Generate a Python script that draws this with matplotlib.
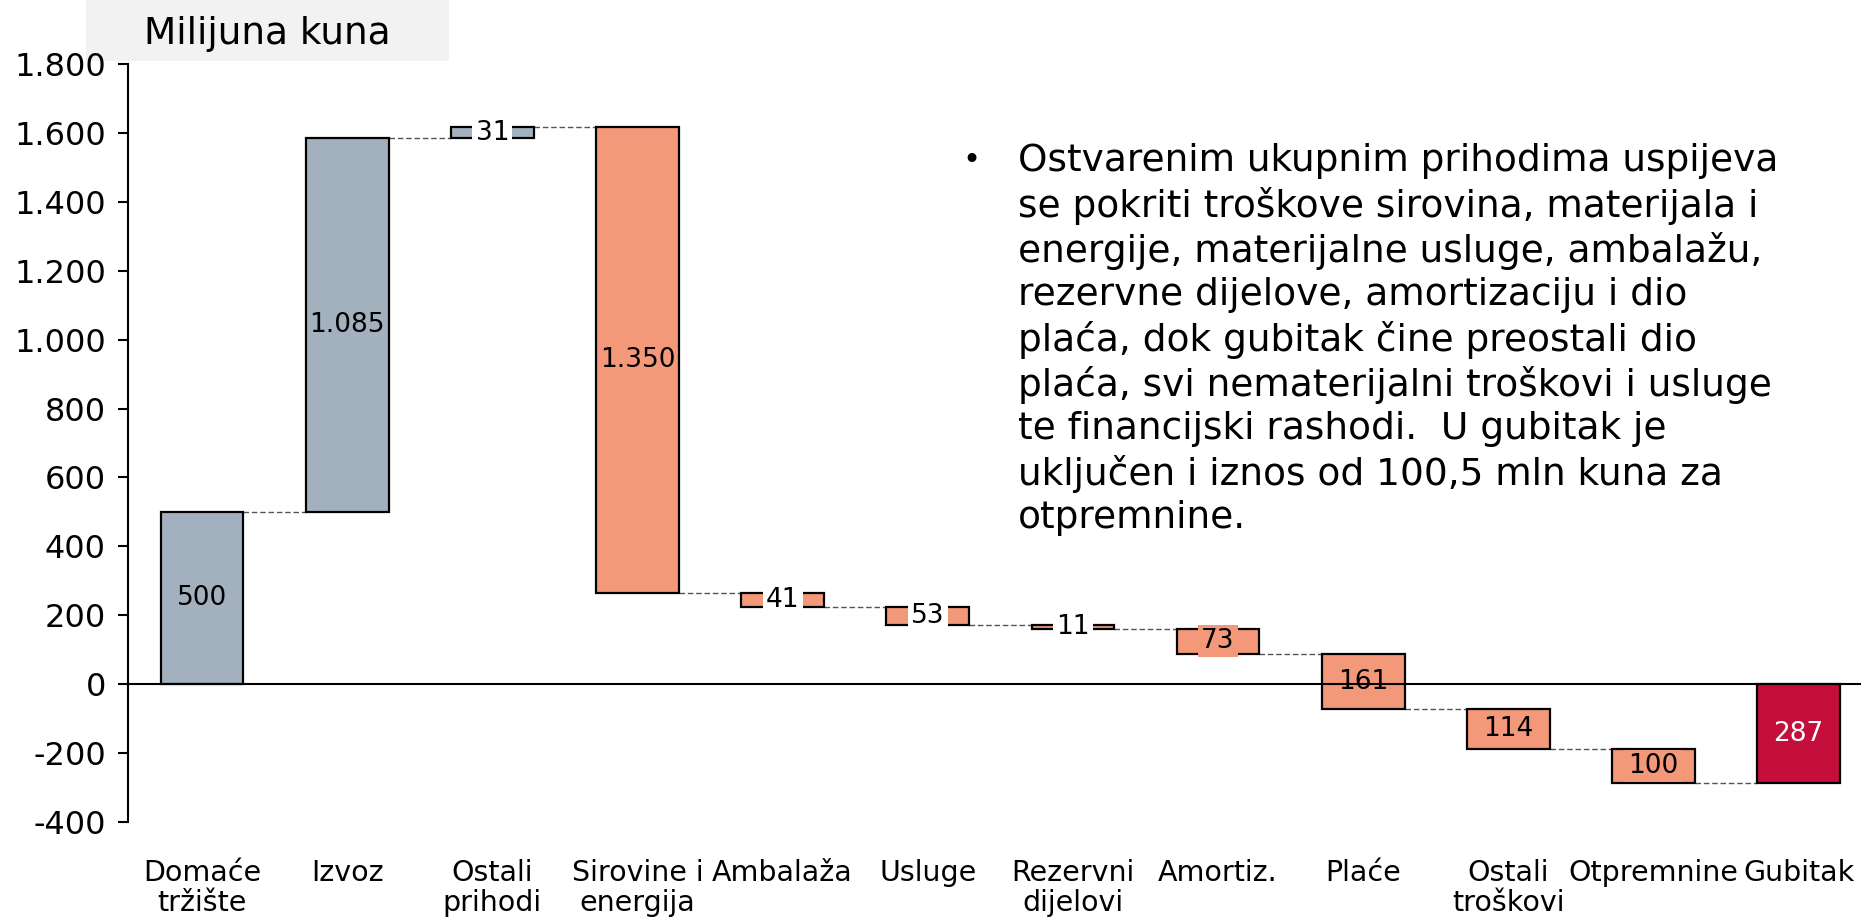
import numpy as np
import matplotlib
matplotlib.use("Agg")
import matplotlib.pyplot as plt
from matplotlib.ticker import FuncFormatter, MultipleLocator

# podaci (milijuna kuna)
categories = ["Domaće\ntržište", "Izvoz", "Ostali\nprihodi", "Sirovine i\nenergija",
              "Ambalaža", "Usluge", "Rezervni\ndijelovi", "Amortiz.", "Plaće",
              "Ostali\ntroškovi", "Otpremnine", "Gubitak"]
changes = [500, 1085, 31, -1350, -41, -53, -11, -73, -161, -114, -100]
note_lines = [
    "Ostvarenim ukupnim prihodima uspijeva",
    "se pokriti troškove sirovina, materijala i",
    "energije, materijalne usluge, ambalažu,",
    "rezervne dijelove, amortizaciju i dio",
    "plaća, dok gubitak čine preostali dio",
    "plaća, svi nematerijalni troškovi i usluge",
    "te financijski rashodi.  U gubitak je",
    "uključen i iznos od 100,5 mln kuna za",
    "otpremnine.",
]

GRAY = "#a3b1bf"
SALMON = "#f4987a"
RED = "#c40f3d"


def fmt(v):
    return f"{int(round(v)):,}".replace(",", ".")


cum = np.cumsum(changes)
starts = np.concatenate([[0], cum[:-1]])
final = cum[-1]

fig = plt.figure(figsize=(18.61, 9.21), dpi=100)

# naslov osi (siva podloga iza osi)
fig.patches.append(plt.Rectangle((86 / 1861, 1 - 61 / 921), 363 / 1861, 61 / 921,
                                 transform=fig.transFigure, fc="#f2f2f2", ec="none",
                                 zorder=0))
fig.text(267 / 1861, 1 - 34 / 921, "Milijuna kuna", ha="center", va="center",
         fontsize=27)

ax = fig.add_axes([0.0688, 0.1075, 0.9312, 0.8230])
ax.set_zorder(2)
ax.patch.set_alpha(0)

x = np.arange(len(categories))
w = 0.57
bottoms = list(np.minimum(starts, cum)) + [min(0, final)]
heights = list(np.abs(changes)) + [abs(final)]
colors = [GRAY if c > 0 else SALMON for c in changes] + [RED]
ax.bar(x, heights, bottom=bottoms, width=w, color=colors, edgecolor="black",
       linewidth=1.6, zorder=3)

# spojnice
levels = list(cum)
for i in range(len(categories) - 1):
    ax.plot([x[i] + w / 2, x[i + 1] - w / 2], [levels[i], levels[i]],
            color="#555555", lw=1, ls=(0, (4, 2)), zorder=2)

# oznake vrijednosti
values = list(np.abs(changes)) + [abs(final)]
for i, v in enumerate(values):
    yc = bottoms[i] + heights[i] / 2
    tc = "white" if i == len(values) - 1 else "black"
    if v < 60:
        box = dict(boxstyle="square,pad=0.12", fc="white", ec="none")
    elif v < 200:
        box = dict(boxstyle="square,pad=0.12", fc=colors[i], ec="none")
    else:
        box = None
    ax.text(x[i], yc, fmt(v), ha="center", va="center", fontsize=19, color=tc,
            zorder=4, bbox=box)

ax.axhline(0, color="black", lw=1.5, zorder=4)
ax.set_ylim(-400, 1800)
ax.set_xlim(-0.51, len(categories) - 0.57)
ax.yaxis.set_major_locator(MultipleLocator(200))
ax.yaxis.set_major_formatter(FuncFormatter(lambda v, p: fmt(v)))
ax.set_xticks(x)
ax.set_xticklabels(categories, fontsize=20.5, linespacing=1.05)
ax.tick_params(axis="x", length=0, pad=27)
ax.tick_params(axis="y", labelsize=23, length=7, width=1.5, direction="out", pad=9)
for s in ["top", "right", "bottom"]:
    ax.spines[s].set_visible(False)
ax.spines["left"].set_linewidth(1.5)

# komentar
fig.text(962 / 1861, 1 - 146 / 921, "•", ha="left", va="top", fontsize=22)
fig.text(1018 / 1861, 1 - 143 / 921, "\n".join(note_lines), ha="left", va="top",
         fontsize=27, linespacing=1.25)

fig.savefig("out.png", dpi=100)
